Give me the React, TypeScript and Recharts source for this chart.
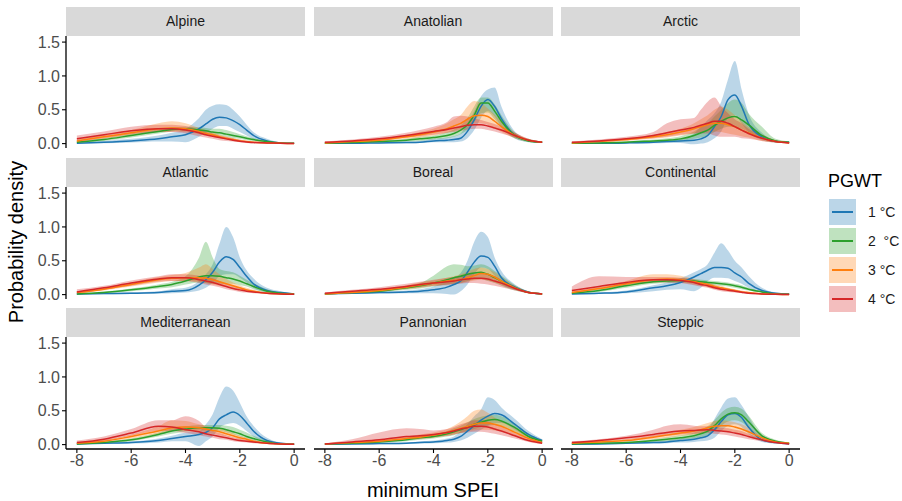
import React from "react";
import { Area, ComposedChart, Line, XAxis, YAxis } from "recharts";

// ============================================
// Data
// ============================================

const X = [-8, -7, -6, -5, -4.5, -4, -3.5, -3.25, -3, -2.75, -2.5, -2.25, -2, -1.75, -1.5, -1, -0.5, 0];

const REGIONS = [
  "Alpine",
  "Anatolian",
  "Arctic",
  "Atlantic",
  "Boreal",
  "Continental",
  "Mediterranean",
  "Pannonian",
  "Steppic",
];

const SERIES = ["1 °C", "2  °C", "3 °C", "4 °C"];
const COLORS = ["#1f77b4", "#2ca02c", "#ff7f0e", "#d62728"];

const X_TICKS = [-8, -6, -4, -2, 0];
const Y_TICKS = [0, 0.5, 1, 1.5];

// rows: 1 °C, 2 °C, 3 °C, 4 °C
const ALPINE_MEAN = [
  [0.005, 0.02, 0.04, 0.07, 0.1, 0.13, 0.22, 0.29, 0.36, 0.39, 0.38, 0.34, 0.28, 0.2, 0.12, 0.04, 0.01, 0.005],
  [0.02, 0.06, 0.12, 0.18, 0.21, 0.22, 0.2, 0.19, 0.17, 0.16, 0.14, 0.12, 0.1, 0.08, 0.06, 0.03, 0.01, 0.005],
  [0.04, 0.1, 0.16, 0.22, 0.23, 0.22, 0.18, 0.15, 0.13, 0.1, 0.08, 0.06, 0.04, 0.03, 0.02, 0.01, 0.005, 0],
  [0.07, 0.13, 0.19, 0.22, 0.22, 0.2, 0.16, 0.13, 0.11, 0.09, 0.07, 0.05, 0.035, 0.025, 0.015, 0.01, 0.005, 0],
];
const ALPINE_LO = [
  [0, 0.005, 0.015, 0.03, 0.03, 0.02, 0.1, 0.16, 0.22, 0.26, 0.26, 0.22, 0.17, 0.12, 0.07, 0.02, 0.005, 0],
  [0.01, 0.04, 0.09, 0.15, 0.18, 0.19, 0.17, 0.15, 0.13, 0.12, 0.1, 0.08, 0.07, 0.05, 0.04, 0.02, 0.005, 0],
  [0.02, 0.07, 0.12, 0.17, 0.18, 0.17, 0.14, 0.12, 0.1, 0.08, 0.06, 0.04, 0.03, 0.02, 0.01, 0.005, 0, 0],
  [0.02, 0.08, 0.14, 0.17, 0.17, 0.15, 0.11, 0.09, 0.07, 0.05, 0.04, 0.03, 0.02, 0.01, 0.005, 0, 0, 0],
];
const ALPINE_HI = [
  [0.01, 0.04, 0.07, 0.12, 0.16, 0.22, 0.38, 0.5, 0.56, 0.58, 0.57, 0.5, 0.4, 0.28, 0.17, 0.07, 0.02, 0.01],
  [0.03, 0.08, 0.15, 0.21, 0.24, 0.25, 0.24, 0.23, 0.22, 0.22, 0.2, 0.17, 0.14, 0.11, 0.08, 0.04, 0.015, 0.01],
  [0.06, 0.13, 0.2, 0.3, 0.33, 0.3, 0.23, 0.2, 0.17, 0.13, 0.1, 0.08, 0.06, 0.04, 0.03, 0.015, 0.01, 0.005],
  [0.12, 0.18, 0.25, 0.28, 0.28, 0.26, 0.21, 0.18, 0.15, 0.12, 0.1, 0.08, 0.06, 0.04, 0.025, 0.015, 0.01, 0.005],
];

const ANATOLIAN_MEAN = [
  [0.005, 0.005, 0.01, 0.015, 0.02, 0.04, 0.05, 0.06, 0.08, 0.18, 0.35, 0.55, 0.65, 0.55, 0.37, 0.12, 0.045, 0.02],
  [0.005, 0.015, 0.03, 0.05, 0.07, 0.09, 0.12, 0.15, 0.2, 0.28, 0.42, 0.6, 0.6, 0.48, 0.33, 0.12, 0.04, 0.02],
  [0.01, 0.03, 0.05, 0.1, 0.13, 0.17, 0.22, 0.26, 0.3, 0.36, 0.41, 0.42, 0.4, 0.33, 0.25, 0.12, 0.05, 0.02],
  [0.02, 0.04, 0.07, 0.12, 0.15, 0.18, 0.21, 0.23, 0.25, 0.27, 0.28, 0.28, 0.26, 0.23, 0.2, 0.12, 0.05, 0.02],
];
const ANATOLIAN_LO = [
  [0, 0, 0, 0.005, 0.01, 0.02, 0.02, 0.02, 0.03, 0.08, 0.2, 0.38, 0.48, 0.4, 0.25, 0.07, 0.02, 0.01],
  [0, 0.005, 0.015, 0.03, 0.04, 0.06, 0.08, 0.1, 0.14, 0.2, 0.32, 0.45, 0.46, 0.36, 0.24, 0.08, 0.025, 0.01],
  [0.005, 0.02, 0.035, 0.07, 0.09, 0.12, 0.16, 0.19, 0.22, 0.27, 0.3, 0.3, 0.28, 0.23, 0.17, 0.08, 0.03, 0.01],
  [0.01, 0.025, 0.05, 0.09, 0.11, 0.13, 0.16, 0.17, 0.19, 0.21, 0.22, 0.22, 0.2, 0.18, 0.15, 0.09, 0.03, 0.01],
];
const ANATOLIAN_HI = [
  [0.01, 0.01, 0.02, 0.03, 0.04, 0.07, 0.09, 0.11, 0.15, 0.3, 0.48, 0.7, 0.8, 0.83, 0.55, 0.18, 0.07, 0.03],
  [0.01, 0.025, 0.045, 0.07, 0.1, 0.12, 0.17, 0.21, 0.27, 0.38, 0.55, 0.68, 0.68, 0.58, 0.42, 0.16, 0.06, 0.03],
  [0.02, 0.045, 0.07, 0.13, 0.17, 0.22, 0.3, 0.36, 0.42, 0.55, 0.63, 0.6, 0.52, 0.43, 0.33, 0.16, 0.07, 0.03],
  [0.03, 0.06, 0.1, 0.16, 0.2, 0.25, 0.32, 0.4, 0.41, 0.4, 0.37, 0.35, 0.32, 0.29, 0.25, 0.16, 0.07, 0.03],
];

const ARCTIC_MEAN = [
  [0.005, 0.005, 0.01, 0.02, 0.03, 0.04, 0.05, 0.07, 0.12, 0.25, 0.4, 0.65, 0.72, 0.55, 0.3, 0.1, 0.03, 0.02],
  [0.005, 0.01, 0.02, 0.04, 0.05, 0.07, 0.12, 0.16, 0.2, 0.27, 0.33, 0.38, 0.4, 0.35, 0.28, 0.12, 0.04, 0.02],
  [0.01, 0.03, 0.06, 0.1, 0.13, 0.17, 0.22, 0.25, 0.28, 0.3, 0.3, 0.28, 0.25, 0.2, 0.16, 0.08, 0.03, 0.01],
  [0.02, 0.04, 0.07, 0.12, 0.16, 0.2, 0.24, 0.27, 0.3, 0.33, 0.33, 0.3, 0.25, 0.2, 0.15, 0.08, 0.03, 0.01],
];
const ARCTIC_LO = [
  [0, 0, 0, 0.005, 0.01, 0.01, -0.01, 0, 0.02, 0.08, 0.18, 0.38, 0.42, 0.3, 0.17, 0.05, 0.015, 0.005],
  [0, 0.005, 0.01, 0.02, 0.03, 0.04, 0.07, 0.09, 0.12, 0.17, 0.22, 0.25, 0.25, 0.22, 0.17, 0.07, 0.02, 0.01],
  [0.005, 0.015, 0.04, 0.07, 0.09, 0.12, 0.15, 0.17, 0.18, 0.18, 0.17, 0.15, 0.13, 0.11, 0.09, 0.04, 0.015, 0.005],
  [0.01, 0.025, 0.05, 0.08, 0.1, 0.13, 0.15, 0.15, 0.15, 0.12, 0.1, 0.1, 0.1, 0.08, 0.07, 0.04, 0.015, 0.005],
];
const ARCTIC_HI = [
  [0.01, 0.01, 0.02, 0.035, 0.05, 0.07, 0.15, 0.25, 0.35, 0.45, 0.62, 0.95, 1.22, 0.8, 0.45, 0.16, 0.05, 0.03],
  [0.01, 0.02, 0.035, 0.06, 0.08, 0.11, 0.18, 0.24, 0.3, 0.4, 0.5, 0.6, 0.65, 0.6, 0.45, 0.25, 0.07, 0.03],
  [0.02, 0.045, 0.08, 0.13, 0.17, 0.22, 0.3, 0.36, 0.42, 0.5, 0.55, 0.5, 0.42, 0.33, 0.25, 0.13, 0.05, 0.02],
  [0.03, 0.06, 0.1, 0.17, 0.3, 0.36, 0.38, 0.5, 0.62, 0.68, 0.55, 0.45, 0.36, 0.3, 0.22, 0.12, 0.05, 0.02],
];

const ATLANTIC_MEAN = [
  [0.01, 0.015, 0.02, 0.03, 0.05, 0.06, 0.14, 0.22, 0.33, 0.48, 0.56, 0.52, 0.4, 0.27, 0.16, 0.06, 0.03, 0.01],
  [0.01, 0.03, 0.07, 0.12, 0.15, 0.2, 0.26, 0.28, 0.28, 0.27, 0.25, 0.23, 0.2, 0.16, 0.12, 0.05, 0.02, 0.01],
  [0.03, 0.08, 0.15, 0.22, 0.24, 0.25, 0.25, 0.24, 0.22, 0.19, 0.16, 0.13, 0.1, 0.07, 0.05, 0.02, 0.01, 0.005],
  [0.04, 0.1, 0.17, 0.23, 0.25, 0.25, 0.22, 0.2, 0.18, 0.15, 0.12, 0.09, 0.07, 0.05, 0.04, 0.02, 0.01, 0.005],
];
const ATLANTIC_LO = [
  [0, 0.005, 0.01, 0.015, 0.02, 0.03, 0.06, 0.1, 0.17, 0.27, 0.3, 0.3, 0.25, 0.18, 0.1, 0.03, 0.01, 0.005],
  [0.005, 0.02, 0.05, 0.09, 0.11, 0.15, 0.18, 0.17, 0.16, 0.16, 0.16, 0.16, 0.14, 0.12, 0.08, 0.03, 0.01, 0.005],
  [0.015, 0.06, 0.12, 0.18, 0.2, 0.2, 0.19, 0.17, 0.15, 0.13, 0.11, 0.09, 0.07, 0.05, 0.03, 0.01, 0.005, 0],
  [0.01, 0.07, 0.13, 0.19, 0.2, 0.2, 0.17, 0.15, 0.13, 0.11, 0.08, 0.06, 0.04, 0.03, 0.02, 0.01, 0.005, 0],
];
const ATLANTIC_HI = [
  [0.02, 0.025, 0.035, 0.05, 0.08, 0.1, 0.2, 0.3, 0.45, 0.75, 1.0, 0.85, 0.55, 0.36, 0.24, 0.1, 0.05, 0.02],
  [0.015, 0.045, 0.09, 0.15, 0.19, 0.27, 0.55, 0.78, 0.55, 0.38, 0.35, 0.33, 0.28, 0.22, 0.17, 0.08, 0.03, 0.015],
  [0.045, 0.1, 0.18, 0.26, 0.29, 0.32, 0.4, 0.45, 0.38, 0.3, 0.23, 0.18, 0.14, 0.1, 0.07, 0.03, 0.015, 0.01],
  [0.08, 0.13, 0.21, 0.27, 0.3, 0.3, 0.28, 0.26, 0.24, 0.2, 0.16, 0.13, 0.1, 0.08, 0.06, 0.03, 0.015, 0.01],
];

const BOREAL_MEAN = [
  [0.01, 0.02, 0.03, 0.04, 0.05, 0.07, 0.11, 0.15, 0.2, 0.33, 0.48, 0.57, 0.55, 0.42, 0.25, 0.11, 0.035, 0.01],
  [0.01, 0.03, 0.05, 0.1, 0.13, 0.17, 0.22, 0.25, 0.27, 0.3, 0.32, 0.33, 0.3, 0.25, 0.2, 0.1, 0.03, 0.01],
  [0.01, 0.03, 0.06, 0.11, 0.14, 0.17, 0.2, 0.21, 0.22, 0.25, 0.28, 0.31, 0.3, 0.26, 0.2, 0.1, 0.03, 0.01],
  [0.02, 0.05, 0.08, 0.12, 0.15, 0.17, 0.19, 0.2, 0.22, 0.23, 0.24, 0.24, 0.23, 0.2, 0.17, 0.09, 0.03, 0.01],
];
const BOREAL_LO = [
  [0, 0.01, 0.015, 0.02, 0.02, 0.02, 0.01, 0, 0.05, 0.15, 0.3, 0.4, 0.38, 0.28, 0.16, 0.07, 0.02, 0.005],
  [0.005, 0.02, 0.035, 0.07, 0.09, 0.12, 0.15, 0.16, 0.17, 0.2, 0.22, 0.23, 0.2, 0.17, 0.13, 0.06, 0.02, 0.005],
  [0.005, 0.02, 0.045, 0.08, 0.1, 0.13, 0.15, 0.16, 0.17, 0.19, 0.21, 0.22, 0.21, 0.18, 0.14, 0.07, 0.02, 0.005],
  [0.01, 0.03, 0.06, 0.09, 0.11, 0.13, 0.14, 0.15, 0.16, 0.17, 0.17, 0.16, 0.15, 0.13, 0.11, 0.06, 0.02, 0.005],
];
const BOREAL_HI = [
  [0.02, 0.03, 0.045, 0.06, 0.08, 0.12, 0.2, 0.25, 0.32, 0.5, 0.78, 0.93, 0.85, 0.55, 0.35, 0.15, 0.05, 0.015],
  [0.015, 0.04, 0.07, 0.13, 0.17, 0.28, 0.42, 0.45, 0.44, 0.42, 0.43, 0.45, 0.42, 0.35, 0.28, 0.14, 0.05, 0.015],
  [0.015, 0.04, 0.08, 0.14, 0.18, 0.21, 0.25, 0.27, 0.3, 0.34, 0.38, 0.4, 0.38, 0.33, 0.26, 0.13, 0.045, 0.015],
  [0.03, 0.07, 0.11, 0.16, 0.19, 0.22, 0.25, 0.26, 0.28, 0.3, 0.31, 0.31, 0.3, 0.27, 0.22, 0.12, 0.045, 0.015],
];

const CONTINENTAL_MEAN = [
  [0.01, 0.02, 0.04, 0.1, 0.13, 0.18, 0.26, 0.31, 0.36, 0.4, 0.4, 0.39, 0.32, 0.26, 0.17, 0.06, 0.02, 0.01],
  [0.02, 0.06, 0.13, 0.19, 0.2, 0.21, 0.2, 0.19, 0.18, 0.17, 0.16, 0.15, 0.13, 0.11, 0.08, 0.04, 0.01, 0.005],
  [0.03, 0.09, 0.16, 0.22, 0.23, 0.22, 0.19, 0.17, 0.15, 0.12, 0.1, 0.08, 0.06, 0.04, 0.03, 0.01, 0.005, 0],
  [0.06, 0.12, 0.18, 0.22, 0.22, 0.21, 0.18, 0.15, 0.13, 0.1, 0.08, 0.065, 0.05, 0.035, 0.02, 0.01, 0.005, 0],
];
const CONTINENTAL_LO = [
  [0, 0.01, 0.02, 0.05, 0.07, 0.08, 0.05, 0.1, 0.2, 0.25, 0.25, 0.24, 0.2, 0.16, 0.1, 0.03, 0.01, 0.005],
  [0.01, 0.04, 0.1, 0.16, 0.17, 0.18, 0.17, 0.16, 0.15, 0.14, 0.13, 0.12, 0.1, 0.08, 0.06, 0.03, 0.005, 0],
  [0.015, 0.07, 0.13, 0.18, 0.19, 0.18, 0.15, 0.13, 0.11, 0.09, 0.07, 0.05, 0.04, 0.03, 0.02, 0.005, 0, 0],
  [0.02, 0.08, 0.14, 0.18, 0.18, 0.17, 0.14, 0.12, 0.1, 0.07, 0.05, 0.04, 0.03, 0.02, 0.01, 0.005, 0, 0],
];
const CONTINENTAL_HI = [
  [0.02, 0.03, 0.06, 0.14, 0.18, 0.24, 0.33, 0.38, 0.45, 0.62, 0.76, 0.65, 0.5, 0.4, 0.28, 0.1, 0.03, 0.015],
  [0.03, 0.08, 0.16, 0.22, 0.23, 0.24, 0.23, 0.22, 0.21, 0.2, 0.19, 0.18, 0.16, 0.14, 0.1, 0.05, 0.015, 0.01],
  [0.045, 0.11, 0.2, 0.3, 0.3, 0.28, 0.23, 0.2, 0.18, 0.15, 0.13, 0.1, 0.08, 0.06, 0.04, 0.015, 0.01, 0.005],
  [0.12, 0.27, 0.26, 0.26, 0.26, 0.25, 0.22, 0.19, 0.17, 0.14, 0.11, 0.09, 0.07, 0.05, 0.03, 0.015, 0.01, 0.005],
];

const MEDITERRANEAN_MEAN = [
  [0.01, 0.02, 0.03, 0.06, 0.09, 0.12, 0.15, 0.18, 0.25, 0.38, 0.44, 0.48, 0.43, 0.32, 0.2, 0.06, 0.02, 0.01],
  [0.01, 0.03, 0.07, 0.15, 0.2, 0.23, 0.25, 0.25, 0.25, 0.24, 0.22, 0.19, 0.16, 0.12, 0.09, 0.04, 0.01, 0.005],
  [0.02, 0.05, 0.12, 0.2, 0.25, 0.26, 0.25, 0.23, 0.21, 0.19, 0.16, 0.13, 0.1, 0.08, 0.05, 0.02, 0.01, 0.005],
  [0.03, 0.08, 0.17, 0.27, 0.26, 0.22, 0.19, 0.16, 0.14, 0.12, 0.1, 0.08, 0.06, 0.05, 0.04, 0.02, 0.01, 0.005],
];
const MEDITERRANEAN_LO = [
  [0, 0.01, 0.015, 0.03, 0.05, 0.05, -0.02, 0.05, 0.12, 0.25, 0.3, 0.32, 0.28, 0.2, 0.12, 0.03, 0.01, 0.005],
  [0.005, 0.02, 0.05, 0.12, 0.16, 0.19, 0.21, 0.21, 0.21, 0.2, 0.18, 0.15, 0.12, 0.09, 0.06, 0.03, 0.005, 0],
  [0.01, 0.03, 0.09, 0.16, 0.2, 0.21, 0.2, 0.18, 0.16, 0.14, 0.12, 0.1, 0.07, 0.05, 0.03, 0.01, 0.005, 0],
  [0.01, 0.05, 0.13, 0.2, 0.2, 0.17, 0.14, 0.12, 0.1, 0.08, 0.07, 0.05, 0.04, 0.03, 0.02, 0.01, 0.005, 0],
];
const MEDITERRANEAN_HI = [
  [0.02, 0.03, 0.045, 0.09, 0.13, 0.18, 0.2, 0.3, 0.45, 0.7, 0.86, 0.8, 0.62, 0.42, 0.28, 0.1, 0.03, 0.015],
  [0.015, 0.04, 0.09, 0.18, 0.24, 0.27, 0.29, 0.29, 0.29, 0.29, 0.28, 0.26, 0.22, 0.18, 0.13, 0.06, 0.02, 0.01],
  [0.03, 0.07, 0.15, 0.27, 0.36, 0.35, 0.3, 0.28, 0.26, 0.24, 0.21, 0.17, 0.13, 0.1, 0.07, 0.03, 0.015, 0.01],
  [0.06, 0.12, 0.23, 0.36, 0.36, 0.42, 0.35, 0.25, 0.2, 0.17, 0.14, 0.11, 0.09, 0.07, 0.06, 0.03, 0.015, 0.01],
];

const PANNONIAN_MEAN = [
  [0.005, 0.01, 0.015, 0.02, 0.03, 0.04, 0.06, 0.08, 0.12, 0.2, 0.28, 0.36, 0.42, 0.46, 0.44, 0.3, 0.15, 0.06],
  [0.01, 0.02, 0.04, 0.07, 0.1, 0.12, 0.16, 0.19, 0.22, 0.26, 0.3, 0.33, 0.36, 0.37, 0.35, 0.25, 0.12, 0.05],
  [0.01, 0.03, 0.05, 0.09, 0.11, 0.14, 0.18, 0.21, 0.24, 0.27, 0.3, 0.32, 0.32, 0.3, 0.27, 0.18, 0.09, 0.03],
  [0.01, 0.04, 0.07, 0.12, 0.13, 0.15, 0.18, 0.2, 0.23, 0.25, 0.27, 0.27, 0.26, 0.23, 0.2, 0.13, 0.06, 0.02],
];
const PANNONIAN_LO = [
  [0, 0.005, 0.005, 0.01, 0.015, 0.02, 0.03, 0.04, 0.06, 0.1, 0.16, 0.22, 0.28, 0.32, 0.32, 0.22, 0.1, 0.03],
  [0.005, 0.01, 0.025, 0.05, 0.07, 0.09, 0.12, 0.14, 0.17, 0.2, 0.23, 0.26, 0.28, 0.29, 0.27, 0.19, 0.09, 0.03],
  [0.005, 0.02, 0.035, 0.07, 0.08, 0.1, 0.13, 0.15, 0.17, 0.2, 0.21, 0.22, 0.22, 0.21, 0.19, 0.12, 0.06, 0.02],
  [0.005, 0.025, 0.05, 0.08, 0.09, 0.11, 0.13, 0.15, 0.17, 0.18, 0.19, 0.19, 0.18, 0.16, 0.14, 0.09, 0.04, 0.01],
];
const PANNONIAN_HI = [
  [0.01, 0.015, 0.025, 0.03, 0.045, 0.06, 0.09, 0.12, 0.2, 0.3, 0.42, 0.52, 0.7, 0.66, 0.55, 0.38, 0.2, 0.08],
  [0.015, 0.03, 0.055, 0.09, 0.13, 0.15, 0.2, 0.24, 0.28, 0.33, 0.38, 0.41, 0.43, 0.44, 0.42, 0.31, 0.16, 0.07],
  [0.02, 0.04, 0.07, 0.12, 0.15, 0.18, 0.23, 0.28, 0.34, 0.42, 0.5, 0.52, 0.47, 0.4, 0.35, 0.24, 0.12, 0.045],
  [0.02, 0.08, 0.18, 0.24, 0.23, 0.21, 0.23, 0.26, 0.3, 0.33, 0.36, 0.36, 0.34, 0.3, 0.26, 0.17, 0.08, 0.03],
];

const STEPPIC_MEAN = [
  [0.005, 0.01, 0.02, 0.03, 0.04, 0.06, 0.08, 0.1, 0.13, 0.22, 0.34, 0.44, 0.46, 0.4, 0.26, 0.07, 0.03, 0.01],
  [0.01, 0.02, 0.03, 0.06, 0.08, 0.1, 0.13, 0.16, 0.2, 0.28, 0.38, 0.45, 0.47, 0.44, 0.34, 0.13, 0.05, 0.02],
  [0.02, 0.04, 0.06, 0.11, 0.14, 0.17, 0.2, 0.22, 0.25, 0.27, 0.28, 0.28, 0.26, 0.23, 0.19, 0.1, 0.04, 0.02],
  [0.03, 0.06, 0.1, 0.15, 0.18, 0.2, 0.21, 0.215, 0.22, 0.21, 0.2, 0.19, 0.17, 0.15, 0.12, 0.07, 0.03, 0.01],
];
const STEPPIC_LO = [
  [0, 0.005, 0.01, 0.015, 0.02, 0.03, 0.04, 0.05, 0.06, 0.1, 0.2, 0.28, 0.3, 0.26, 0.16, 0.04, 0.015, 0.005],
  [0.005, 0.01, 0.02, 0.04, 0.05, 0.07, 0.09, 0.11, 0.14, 0.2, 0.28, 0.34, 0.36, 0.33, 0.25, 0.09, 0.03, 0.01],
  [0.01, 0.025, 0.045, 0.08, 0.1, 0.13, 0.15, 0.17, 0.19, 0.2, 0.2, 0.2, 0.18, 0.16, 0.13, 0.07, 0.03, 0.01],
  [0.01, 0.04, 0.07, 0.11, 0.13, 0.15, 0.16, 0.16, 0.17, 0.16, 0.15, 0.14, 0.12, 0.1, 0.08, 0.05, 0.02, 0.005],
];
const STEPPIC_HI = [
  [0.01, 0.015, 0.03, 0.045, 0.06, 0.09, 0.12, 0.15, 0.22, 0.38, 0.55, 0.68, 0.7, 0.58, 0.42, 0.12, 0.05, 0.015],
  [0.015, 0.03, 0.045, 0.08, 0.11, 0.14, 0.18, 0.22, 0.27, 0.36, 0.47, 0.54, 0.56, 0.53, 0.43, 0.17, 0.07, 0.03],
  [0.03, 0.055, 0.08, 0.14, 0.18, 0.22, 0.26, 0.29, 0.32, 0.35, 0.36, 0.35, 0.33, 0.3, 0.25, 0.13, 0.055, 0.03],
  [0.05, 0.08, 0.13, 0.22, 0.28, 0.3, 0.28, 0.27, 0.27, 0.26, 0.25, 0.24, 0.22, 0.2, 0.16, 0.09, 0.04, 0.015],
];

const MEANS = [
  ALPINE_MEAN, ANATOLIAN_MEAN, ARCTIC_MEAN,
  ATLANTIC_MEAN, BOREAL_MEAN, CONTINENTAL_MEAN,
  MEDITERRANEAN_MEAN, PANNONIAN_MEAN, STEPPIC_MEAN,
];
const LOWS = [
  ALPINE_LO, ANATOLIAN_LO, ARCTIC_LO,
  ATLANTIC_LO, BOREAL_LO, CONTINENTAL_LO,
  MEDITERRANEAN_LO, PANNONIAN_LO, STEPPIC_LO,
];
const HIGHS = [
  ALPINE_HI, ANATOLIAN_HI, ARCTIC_HI,
  ATLANTIC_HI, BOREAL_HI, CONTINENTAL_HI,
  MEDITERRANEAN_HI, PANNONIAN_HI, STEPPIC_HI,
];

// ============================================
// Layout
// ============================================

const FONT = '"Liberation Sans", Arial, Helvetica, sans-serif';
const COL_LEFT = [66, 313.5, 561];
const STRIP_TOP = [7, 157.5, 308];
const PANEL_W = 239;
const STRIP_H = 29;
const PANEL_H = 112;
const Y_AXIS_W = 66;
const X_AXIS_H = 36;
// extra room above/below the plot so the edge tick labels are not clipped
const PAD = 10;

function buildRows(k: number) {
  return X.map((x, i) => {
    const row: Record<string, number | number[]> = { x };
    for (let s = 0; s < 4; s++) {
      row[`m${s}`] = MEANS[k][s][i];
      row[`b${s}`] = [LOWS[k][s][i], HIGHS[k][s][i]];
    }
    return row;
  });
}

function Panel({ k }: { k: number }) {
  const col = k % 3;
  const row = Math.floor(k / 3);
  const showY = col === 0;
  const showX = row === 2;
  const left = COL_LEFT[col];
  const top = STRIP_TOP[row];
  const data = buildRows(k);
  const w = PANEL_W + (showY ? Y_AXIS_W : 0);
  const h = PANEL_H + PAD + (showX ? X_AXIS_H : PAD);

  return (
    <>
      <div
        style={{
          position: "absolute",
          left,
          top,
          width: PANEL_W,
          height: STRIP_H,
          background: "#d9d9d9",
          color: "#1a1a1a",
          fontSize: 14,
          lineHeight: `${STRIP_H}px`,
          textAlign: "center",
        }}
      >
        {REGIONS[k]}
      </div>
      <div style={{ position: "absolute", left: left - (showY ? Y_AXIS_W : 0), top: top + STRIP_H - PAD }}>
        <ComposedChart
          width={w}
          height={h}
          data={data}
          margin={{ top: PAD, right: 0, bottom: showX ? 0 : PAD, left: 0 }}
        >
          <XAxis
            type="number"
            dataKey="x"
            domain={[-8.4, 0.4]}
            ticks={X_TICKS}
            interval={0}
            allowDataOverflow
            hide={!showX}
            height={X_AXIS_H}
            axisLine={{ stroke: "#000", strokeWidth: 1.3 }}
            tickLine={{ stroke: "#000", strokeWidth: 1.1 }}
            tickSize={4}
            tick={{ fill: "#4d4d4d", fontSize: 16, fontFamily: FONT }}
          />
          <YAxis
            type="number"
            domain={[-0.065, 1.59]}
            ticks={Y_TICKS}
            interval={0}
            allowDataOverflow
            hide={!showY}
            width={Y_AXIS_W}
            axisLine={{ stroke: "#000", strokeWidth: 1.3 }}
            tickLine={{ stroke: "#000", strokeWidth: 1.1 }}
            tickSize={4}
            tick={{ fill: "#4d4d4d", fontSize: 16, fontFamily: FONT }}
            tickFormatter={(v: number) => v.toFixed(1)}
          />
          {SERIES.map((s, i) => (
            <Area
              key={`band-${s}`}
              type="monotone"
              dataKey={`b${i}`}
              stroke="none"
              fill={COLORS[i]}
              fillOpacity={0.3}
              isAnimationActive={false}
            />
          ))}
          {SERIES.map((s, i) => (
            <Line
              key={`line-${s}`}
              type="monotone"
              dataKey={`m${i}`}
              stroke={COLORS[i]}
              strokeWidth={1.5}
              dot={false}
              isAnimationActive={false}
            />
          ))}
        </ComposedChart>
      </div>
    </>
  );
}

function Legend() {
  return (
    <>
      <div style={{ position: "absolute", left: 828, top: 170, fontSize: 18, lineHeight: "22px", color: "#000" }}>
        PGWT
      </div>
      {SERIES.map((s, i) => (
        <React.Fragment key={s}>
          <div
            style={{
              position: "absolute",
              left: 829,
              top: 199 + i * 29,
              width: 27,
              height: 26,
              background: COLORS[i],
              opacity: 0.3,
            }}
          />
          <div
            style={{
              position: "absolute",
              left: 832,
              top: 199 + i * 29 + 12,
              width: 21,
              height: 1.5,
              background: COLORS[i],
            }}
          />
          <div
            style={{
              position: "absolute",
              left: 868,
              top: 199 + i * 29,
              height: 26,
              lineHeight: "26px",
              fontSize: 14,
              color: "#1a1a1a",
              whiteSpace: "pre",
            }}
          >
            {s}
          </div>
        </React.Fragment>
      ))}
    </>
  );
}

export default function App() {
  return (
    <div
      style={{
        position: "absolute",
        left: 0,
        top: 0,
        width: 902,
        height: 501,
        background: "#fff",
        fontFamily: FONT,
        overflow: "hidden",
      }}
    >
      {REGIONS.map((r, k) => (
        <Panel key={r} k={k} />
      ))}
      <div
        style={{
          position: "absolute",
          left: 16,
          top: 242,
          transform: "translate(-50%, -50%) rotate(-90deg)",
          fontSize: 20,
          whiteSpace: "nowrap",
          color: "#000",
        }}
      >
        Probability density
      </div>
      <div
        style={{
          position: "absolute",
          left: 433,
          top: 490,
          transform: "translate(-50%, -50%)",
          fontSize: 20,
          whiteSpace: "nowrap",
          color: "#000",
        }}
      >
        minimum SPEI
      </div>
      <Legend />
    </div>
  );
}
